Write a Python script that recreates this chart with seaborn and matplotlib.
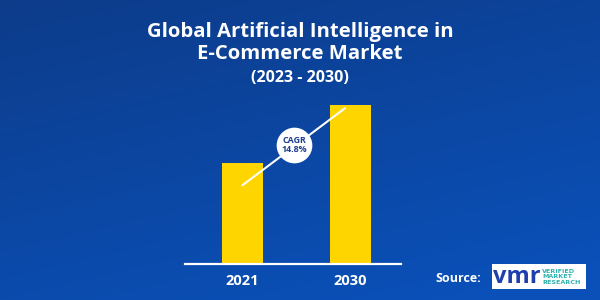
import numpy as np
import matplotlib
matplotlib.use("Agg")
import matplotlib.pyplot as plt
import seaborn as sns
import pandas as pd
from matplotlib.patches import Rectangle

# ---- data ----
years = ["2021", "2030"]
values = [5.05, 7.95]          # relative market size (no axis shown)
title_lines = ["Global Artificial Intelligence in", "E-Commerce Market"]
period = "(2023 - 2030)"
cagr_text = "CAGR\n14.8%"
source_label = "Source:"

sns.set_theme(style="white")
plt.rcParams['font.family'] = ['Open Sans', 'DejaVu Sans']

W, H = 600, 300
fig = plt.figure(figsize=(W / 100, H / 100), dpi=100)

# background gradient
bg = fig.add_axes([0, 0, 1, 1])
yy, xx = np.mgrid[0:1:300j, 0:1:600j]
t = np.clip(0.75 * yy + 0.35 * xx, 0, 1)
top = np.array([0x0d, 0x3c, 0x8a]) / 255
bot = np.array([0x0a, 0x50, 0xb8]) / 255
img = top[None, None, :] * (1 - t[..., None]) + bot[None, None, :] * t[..., None]
bg.imshow(img, aspect="auto", extent=[0, 1, 0, 1], origin="upper")
bg.set_xlim(0, 1); bg.set_ylim(0, 1)
bg.axis("off")

# bar axes
ax = fig.add_axes([185 / W, 36 / H, 216 / W, 200 / H])
ax.patch.set_alpha(0)
df = pd.DataFrame({"year": years, "value": values})
sns.barplot(data=df, x="year", y="value", color="#ffd500", width=0.38,
            saturation=1, linewidth=0, edgecolor="none", ax=ax)
ax.set_xlim(-0.532, 1.468)
ax.set_ylim(0, 10)
for s in ["top", "right", "left"]:
    ax.spines[s].set_visible(False)
ax.spines["bottom"].set_color("white")
ax.spines["bottom"].set_linewidth(1.6)
ax.set_yticks([])
ax.set_xlabel(""); ax.set_ylabel("")
ax.tick_params(axis="x", length=0, pad=7, labelsize=10.5, labelcolor="white")
for lbl in ax.get_xticklabels():
    lbl.set_fontweight("bold")

# CAGR line + circle
x0, y0 = 0.0, values[0] * 0.78
x1, y1 = 0.95, values[1] * 0.98
ax.plot([x0, x1], [y0, y1], color="white", lw=1.5, zorder=3, solid_capstyle="round")
cx, cy = 0.477, 5.95
ax.scatter([cx], [cy], s=660, color="white", zorder=4, linewidths=0)
ax.text(cx, cy, cagr_text, ha="center", va="center", fontsize=6.4,
        fontweight="bold", color="#1d3f8f", zorder=5, linespacing=1.0)

# titles
fig.text(0.5, 1 - 32 / H, title_lines[0], ha="center", va="center",
         fontsize=14.6, fontweight="bold", color="white")
fig.text(0.5, 1 - 54 / H, title_lines[1], ha="center", va="center",
         fontsize=14.6, fontweight="bold", color="white")
fig.text(0.5, 1 - 78 / H, period, ha="center", va="center",
         fontsize=11.5, fontweight="bold", color="white")

# source + logo
fig.text(458 / W, 1 - 278 / H, source_label, ha="center", va="center",
         fontsize=9, fontweight="bold", color="white")
fig.patches.append(Rectangle((492 / W, 1 - 289 / H), 94 / W, 25 / H,
                             transform=fig.transFigure, facecolor="white",
                             edgecolor="none", zorder=2))
fig.text(517 / W, 1 - 277 / H, "vmr", ha="center", va="center",
         fontsize=17, fontweight="bold", color="#1f3fae", zorder=3)
fig.text(542 / W, 1 - 277 / H, "VERIFIED\nMARKET\nRESEARCH", ha="left",
         va="center", fontsize=4.6, fontweight="bold", color="#2fb3b0",
         family=["DejaVu Sans"], linespacing=1.05, zorder=3)

fig.savefig("out.png", dpi=100)
